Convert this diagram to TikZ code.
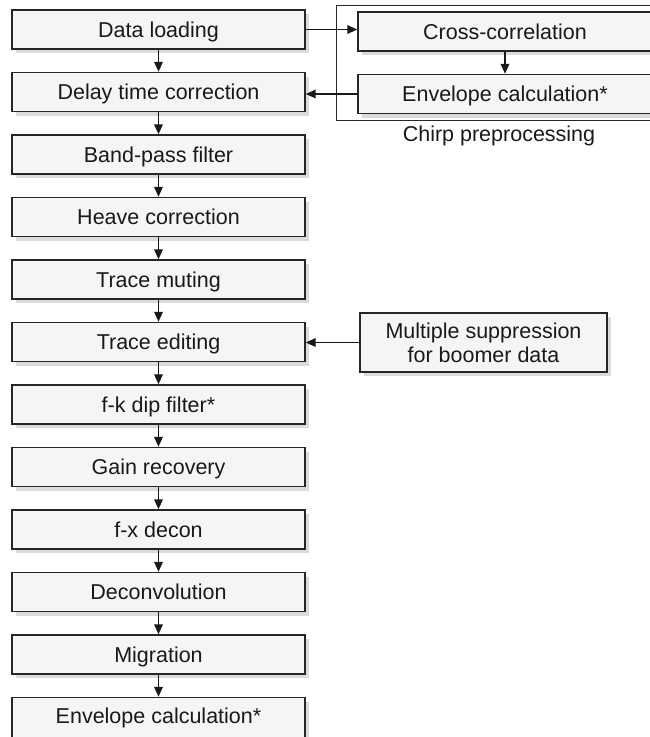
\documentclass[tikz,border=0pt]{standalone}
\usepackage{fontspec}
\setmainfont{Liberation Sans}
\usetikzlibrary{arrows.meta,shadows}
\begin{document}
\begin{tikzpicture}[x=1pt,y=-1pt,
  box/.style={draw=black!85, line width=1.4pt, fill=black!4, minimum width=293pt,
    minimum height=39pt, inner sep=0pt, font=\fontsize{21.5}{24}\selectfont, text=black!90,
    text depth=0pt,
    drop shadow={shadow xshift=4pt, shadow yshift=-4pt, fill=black!14, opacity=1}},
  arr/.style={-{Triangle[length=10pt,width=8.5pt]}, line width=1.8pt, draw=black!90},
  lbl/.style={font=\fontsize{21.5}{24}\selectfont, text=black!90, inner sep=0pt}]
\useasboundingbox (0,0) rectangle (650,737);
\clip (0,0) rectangle (650,737);
% chirp frame
\draw[line width=1pt, draw=black!85] (336,5) rectangle (662,120);
\node[lbl, anchor=base] (chirp) at (499,141.5) {Chirp preprocessing};
% left column
\node[box] (d1) at (158.5,29.5) {Data loading};
\node[box] (d2) at (158.5,92) {Delay time correction};
\node[box] (d3) at (158.5,154.5) {Band-pass filter};
\node[box] (d4) at (158.5,217) {Heave correction};
\node[box] (d5) at (158.5,279.5) {Trace muting};
\node[box] (d6) at (158.5,342) {Trace editing};
\node[box] (d7) at (158.5,404.5) {f-k dip filter*};
\node[box] (d8) at (158.5,467) {Gain recovery};
\node[box] (d9) at (158.5,529.5) {f-x decon};
\node[box] (d10) at (158.5,592) {Deconvolution};
\node[box] (d11) at (158.5,654.5) {Migration};
\node[box, minimum height=44pt] (d12) at (158.5,719.5) {};
\node[lbl, anchor=base] (d12t) at (158.5,723) {Envelope calculation*};
% right column
\node[box, minimum width=294pt] (cc) at (505,31.5) {Cross-correlation};
\node[box, minimum width=294pt] (ec) at (505,94) {Envelope calculation*};
\node[box, minimum width=247pt, minimum height=59pt, align=center, text depth=,
      font=\fontsize{21.5}{24}\selectfont] (ms) at (483.5,342.5) {Multiple suppression\\for boomer data};
% connectors
\foreach \a/\b in {d1/d2,d2/d3,d3/d4,d4/d5,d5/d6,d6/d7,d7/d8,d8/d9,d9/d10,d10/d11,d11/d12}
  \draw[arr] (\a.south) -- (\b.north);
\draw[arr] (cc.south) -- (ec.north);
\draw[arr] (d1.east) -- (d1.east -| cc.west);
\draw[arr] (ec.west) -- (ec.west -| d2.east);
\draw[arr] (ms.west) -- (ms.west -| d6.east);
\end{tikzpicture}
\end{document}
